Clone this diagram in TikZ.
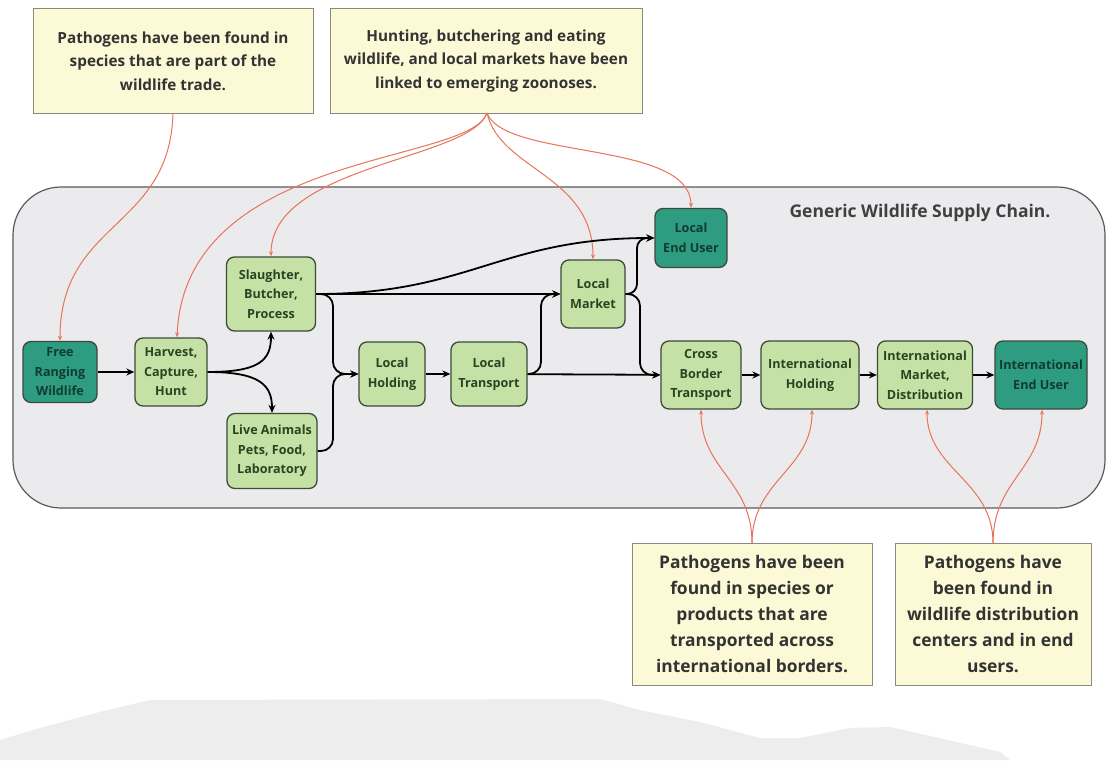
\documentclass[tikz,border=0pt]{standalone}
\usepackage{fontspec}
\setmainfont{Open Sans}
\usetikzlibrary{arrows.meta,calc}
\definecolor{lgreen}{HTML}{C6E1A6}
\definecolor{dteal}{HTML}{2E9C80}
\definecolor{nborder}{HTML}{3C4A3C}
\definecolor{ntext}{HTML}{2A4422}
\definecolor{dtext}{HTML}{103C30}
\definecolor{panel}{HTML}{EBEBED}
\definecolor{panelb}{HTML}{5A5A5A}
\definecolor{note}{HTML}{FCFAD6}
\definecolor{noteb}{HTML}{8A8A80}
\definecolor{redl}{HTML}{E8735A}
\definecolor{ghost}{HTML}{EDEDED}
\tikzset{
  stagebox/.style={draw=nborder,line width=1.3pt,rounded corners=8pt,fill=lgreen,
    align=center,inner sep=0pt,text=ntext,font=\fontsize{12.6}{19.5}\selectfont\bfseries},
  endbox/.style={stagebox,fill=dteal,text=dtext},
  notebox/.style={draw=noteb,line width=1pt,fill=note,align=center,text=black!80,inner sep=2pt},
  redline/.style={draw=redl,line width=1pt,-{Stealth[length=5pt,width=4pt]}},
  blackline/.style={draw=black,line width=1.8pt,-{Stealth[length=8pt,width=7pt]}},
}
\begin{document}
\begin{tikzpicture}[x=1pt,y=-1pt]
\useasboundingbox (0,0) rectangle (1107,760);
\fill[white] (0,0) rectangle (1107,760);
% faint silhouette at bottom
\fill[ghost] (0,760) -- (0,740) -- (40,728) -- (100,712) -- (150,700) -- (600,699) -- (640,710) -- (700,722) -- (760,738) -- (800,738) -- (850,728) -- (890,727) -- (930,736) -- (1000,752) -- (1010,760) -- cycle;
% panel
\draw[fill=panel,draw=panelb,line width=1.2pt,rounded corners=48pt] (13,187) rectangle (1105,508);
\node[font=\fontsize{17.5}{20}\selectfont\bfseries,text=black!75] (title) at (920,213) {Generic Wildlife Supply Chain.};
% notes
\node[notebox,minimum width=280pt,minimum height=104pt,font=\fontsize{15.3}{23.5}\selectfont\bfseries] (n1) at (173,61) {Pathogens have been found in\\species that are part of the\\wildlife trade.};
\node[notebox,minimum width=312pt,minimum height=104pt,font=\fontsize{15.3}{23.5}\selectfont\bfseries] (n2) at (486,61) {Hunting, butchering and eating\\wildlife, and local markets have been\\linked to emerging zoonoses.};
\node[notebox,minimum width=240pt,minimum height=142pt,font=\fontsize{17.4}{25.8}\selectfont\bfseries] (n3) at (752,614) {Pathogens have been\\found in species or\\products that are\\transported across\\international borders.};
\node[notebox,minimum width=196pt,minimum height=142pt,font=\fontsize{17.4}{25.8}\selectfont\bfseries] (n4) at (993,614) {Pathogens have\\been found in\\wildlife distribution\\centers and in end\\users.};
% stages
\node[endbox,minimum width=74pt,minimum height=61pt] (frw) at (60,372) {Free\\Ranging\\Wildlife};
\node[stagebox,minimum width=72pt,minimum height=68pt] (hch) at (171,372) {Harvest,\\Capture,\\Hunt};
\node[stagebox,minimum width=89pt,minimum height=74pt] (sbp) at (271,294) {Slaughter,\\Butcher,\\Process};
\node[stagebox,minimum width=90pt,minimum height=75pt] (lap) at (272,451) {Live Animals\\Pets, Food,\\Laboratory};
\node[stagebox,minimum width=66pt,minimum height=64pt] (lho) at (392,374) {Local\\Holding};
\node[stagebox,minimum width=76pt,minimum height=64pt] (ltr) at (489,374) {Local\\Transport};
\node[stagebox,minimum width=64pt,minimum height=68pt] (lma) at (593,294) {Local\\Market};
\node[endbox,minimum width=72pt,minimum height=59pt] (leu) at (691,238) {Local\\End User};
\node[stagebox,minimum width=80pt,minimum height=68pt] (cbt) at (701,375) {Cross\\Border\\Transport};
\node[stagebox,minimum width=98pt,minimum height=68pt] (iho) at (810,375) {International\\Holding};
\node[stagebox,minimum width=95pt,minimum height=68pt] (ima) at (925,375) {International\\Market,\\Distribution};
\node[endbox,minimum width=92pt,minimum height=68pt] (ieu) at (1041,375) {International\\End User};
% red connectors
\coordinate (r1) at (173,113);
\coordinate (r2) at (487,113);
\coordinate (r3) at (752,543);
\coordinate (r4) at (993,543);
\draw[redline] (r1) .. controls (170,230) and (60,220) .. (frw.north);
\draw[redline] (r2) .. controls (470,165) and (185,150) .. ($(hch.north)+(6,0)$);
\draw[redline] (r2) .. controls (470,160) and (271,165) .. (sbp.north);
\draw[redline] (r2) .. controls (500,170) and (593,175) .. (lma.north);
\draw[redline] (r2) .. controls (505,160) and (691,140) .. (leu.north);
\draw[redline] (r3) .. controls (752,480) and (701,470) .. (cbt.south);
\draw[redline] (r3) .. controls (752,480) and (812,470) .. ($(iho.south)+(2,0)$);
\draw[redline] (r4) .. controls (993,480) and (927,470) .. ($(ima.south)+(2,0)$);
\draw[redline] (r4) .. controls (993,480) and (1042,470) .. ($(ieu.south)+(1,0)$);
% black connectors
\draw[blackline] (frw) -- (hch);
\draw[blackline] (hch.east) .. controls (260,372) and (271,360) .. (sbp.south);
\draw[blackline] (hch.east) .. controls (260,372) and (272,385) .. (lap.north);
\draw[blackline] (sbp.east) -- (lma.west);
\draw[blackline] (sbp.east) .. controls (470,294) and (500,238) .. (leu.west);
\draw[blackline,rounded corners=12pt] (sbp.east) -- (333,294) -- (333,374) -- (lho.west);
\draw[blackline,rounded corners=12pt] (lap.east) -- (333,451) -- (333,374) -- (lho.west);
\draw[blackline] (lho) -- (ltr);
\draw[blackline] (ltr) -- (cbt);
\draw[blackline,rounded corners=12pt] (ltr.east) -- (541,374) -- (541,294) -- (lma.west);
\draw[blackline,rounded corners=10pt] (lma.east) -- (637,294) -- (637,238) -- (leu.west);
\draw[blackline,rounded corners=12pt] (lma.east) -- (640,294) -- (640,375) -- (cbt.west);
\draw[blackline] (cbt) -- (iho);
\draw[blackline] (iho) -- (ima);
\draw[blackline] (ima) -- (ieu);
\end{tikzpicture}
\end{document}
